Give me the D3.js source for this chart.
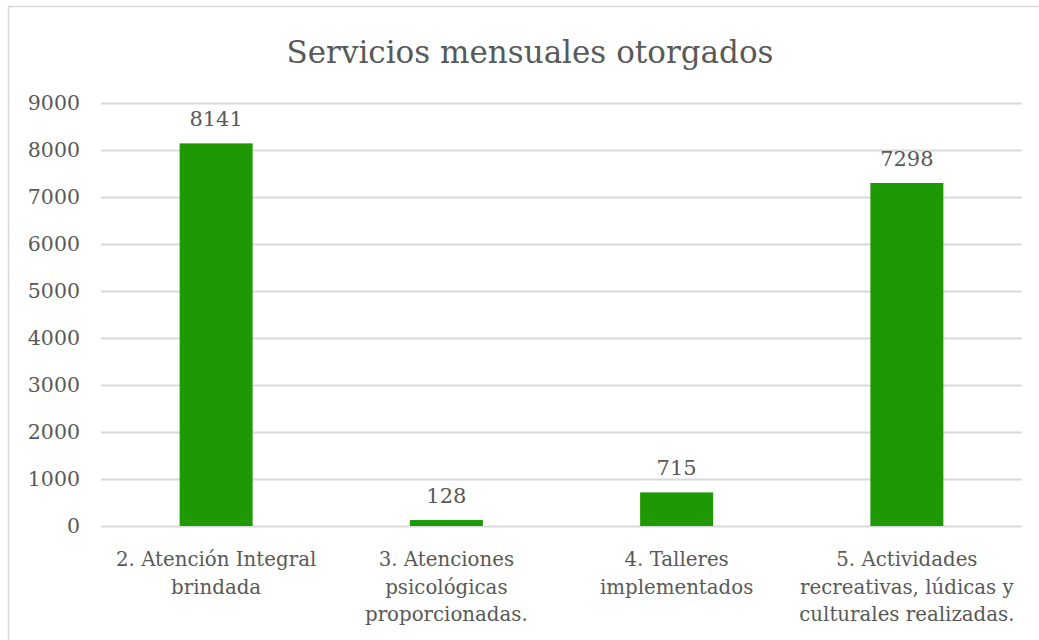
<!DOCTYPE html>
<html>
<head>
<meta charset="utf-8">
<script src="https://cdn.jsdelivr.net/npm/d3@7"></script>
<style>
  body { margin: 0; background: #fff; }
  text { font-family: "DejaVu Serif", serif; fill: #595959; }
</style>
</head>
<body>
<div id="chart"></div>
<script>
// chart data
var categories = [
    ["2. Atención Integral", "brindada"],
    ["3. Atenciones", "psicológicas", "proporcionadas."],
    ["4. Talleres", "implementados"],
    ["5. Actividades", "recreativas, lúdicas y", "culturales realizadas."]
];
var values = [8141, 128, 715, 7298];
var yTicks = [0, 1000, 2000, 3000, 4000, 5000, 6000, 7000, 8000, 9000];
var title = "Servicios mensuales otorgados";

var W = 1039, H = 640;
var margin = { top: 103, right: 17, bottom: 114, left: 101 };
var width = W - margin.left - margin.right,
    height = H - margin.top - margin.bottom;

var svg = d3.select("#chart").append("svg")
    .attr("width", W)
    .attr("height", H);

// outer frame
svg.append("rect")
    .attr("x", 8.5).attr("y", 6.5)
    .attr("width", W + 10).attr("height", H + 10)
    .style("fill", "none")
    .style("stroke", "#d9d9d9")
    .style("stroke-width", 1.5);

svg.append("text")                          // chart title
    .attr("x", 530)
    .attr("y", 63)
    .style("text-anchor", "middle")
    .style("font-size", "31px")
    .text(title);

var g = svg.append("g")
    .attr("transform", "translate(" + margin.left + "," + margin.top + ")");

var x = d3.scaleBand()
    .domain(d3.range(categories.length))
    .range([0, width])
    .paddingInner(0.683)
    .paddingOuter(0.3415);

var y = d3.scaleLinear()
    .domain([0, 9000])
    .range([height, 0]);

// horizontal gridlines + y labels
g.append("g")
    .attr("class", "y axis")
    .call(d3.axisLeft(y).tickValues(yTicks).tickSize(-width).tickPadding(21).tickFormat(d3.format("d")))
    .call(function (a) {
        a.select(".domain").remove();
        a.selectAll("line").style("stroke", "#d9d9d9").style("stroke-width", 2);
        a.selectAll("text").style("font-size", "20.5px").style("font-family", "DejaVu Serif").style("fill", "#595959");
    });

g.selectAll(".bar")
    .data(values)
    .enter().append("rect")
    .attr("class", "bar")
    .attr("x", function (d, i) { return x(i); })
    .attr("y", function (d) { return y(d); })
    .attr("width", x.bandwidth())
    .attr("height", function (d) { return height - y(d); })
    .style("fill", "#1f9903");

g.selectAll(".value")
    .data(values)
    .enter().append("text")
    .attr("class", "value")
    .attr("x", function (d, i) { return x(i) + x.bandwidth() / 2; })
    .attr("y", function (d) { return y(d) - 17; })
    .style("text-anchor", "middle")
    .style("font-size", "21px")
    .text(function (d) { return d; });

// category labels, manually wrapped like the original
var cat = g.selectAll(".cat")
    .data(categories)
    .enter().append("text")
    .attr("class", "cat")
    .attr("x", function (d, i) { return x(i) + x.bandwidth() / 2; })
    .attr("y", height + 40)
    .style("text-anchor", "middle")
    .style("font-size", "19.8px");

cat.selectAll("tspan")
    .data(function (d) { return d; })
    .enter().append("tspan")
    .attr("x", function () { return d3.select(this.parentNode).attr("x"); })
    .attr("dy", function (d, i) { return i == 0 ? 0 : 27.5; })
    .text(function (d) { return d; });
</script>
</body>
</html>
